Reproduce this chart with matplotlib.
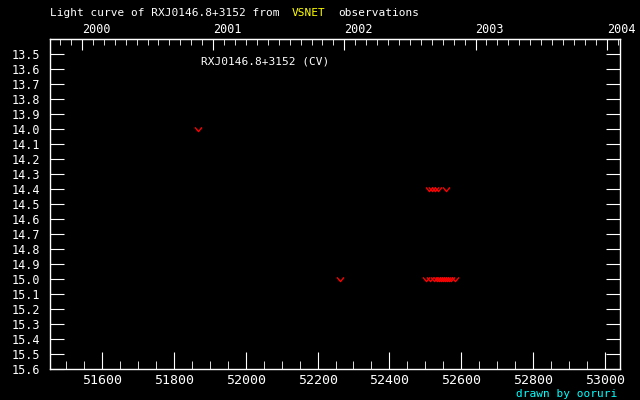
#Light curve plot (VSNET style)

import matplotlib
matplotlib.use('Agg')
import matplotlib.pyplot as plt
from matplotlib.ticker import MultipleLocator, FixedLocator
import numpy as np

# observations (MJD, magnitude)
mjd_14 = [51867, 52510, 52518, 52527, 52535, 52557]
mag_14 = [14.0, 14.4, 14.4, 14.4, 14.4, 14.4]
mjd_15 = [52262, 52502, 52513, 52524, 52532, 52538, 52543, 52549, 52555, 52560, 52566, 52571, 52582]
mag_15 = [15.0] * 13

star_name = 'RXJ0146.8+3152'
year_ticks = [2000, 2001, 2002, 2003, 2004]

plt.rcParams['font.family'] = 'DejaVu Sans Mono'

def mjd_to_year(m):
    return 2000.0 + (np.asarray(m) - 51544.0) / 365.25

def year_to_mjd(y):
    return 51544.0 + (np.asarray(y) - 2000.0) * 365.25

fig = plt.figure(figsize=(6.4, 4.0), dpi=100, facecolor='black')
ax = fig.add_axes([50/640, 1 - 369/400, 570/640, 330/400])
ax.set_facecolor('black')

vmark = [(-1, 0.6), (0, -0.6), (1, 0.6)] # open "v" glyph
ax.plot(mjd_14 + mjd_15, mag_14 + mag_15, linestyle='none', marker=vmark,
        markersize=5, markerfacecolor='none', markeredgecolor='red', markeredgewidth=1)

ax.set_xlim(51455, 53042)
ax.set_ylim(15.6, 13.4)

for s in ax.spines.values():
    s.set_color('white')
    s.set_linewidth(1)

ax.xaxis.set_major_locator(MultipleLocator(200))
ax.xaxis.set_minor_locator(MultipleLocator(50))
ax.yaxis.set_major_locator(FixedLocator(np.round(np.arange(13.5, 15.61, 0.1), 1)))
ax.yaxis.set_major_formatter(plt.FuncFormatter(lambda v, p: '%.1f' % v))

ax.tick_params(axis='x', which='major', direction='in', length=12, color='white',
               labelcolor='white', labelsize=9.5, pad=3.5, top=False)
ax.tick_params(axis='x', which='minor', direction='in', length=6, color='white', top=False)
ax.tick_params(axis='y', which='major', direction='in', length=10, color='white',
               labelcolor='white', labelsize=8.5, right=True, pad=7)

top = ax.secondary_xaxis('top', functions=(mjd_to_year, year_to_mjd))
top.spines['top'].set_color('white')
top.xaxis.set_major_locator(FixedLocator(year_ticks))
top.xaxis.set_minor_locator(MultipleLocator(1/12))
top.xaxis.set_major_formatter(plt.FuncFormatter(lambda v, p: '%d' % round(v)))
top.tick_params(axis='x', which='major', direction='in', length=8, color='white',
                labelcolor='white', labelsize=8.5, pad=2.5)
top.tick_params(axis='x', which='minor', direction='in', length=4, color='white')
for lab in top.get_xticklabels():
    lab.set_horizontalalignment('left')

ax.text(151/570, 1 - (62-39)/330, star_name + ' (CV)', transform=ax.transAxes,
        color='white', fontsize=8, va='center', ha='left')

fig.text(50/640, 1 - 13/400, 'Light curve of ' + star_name + ' from', color='white',
         fontsize=8, va='center', ha='left')
fig.text(292/640, 1 - 13/400, 'VSNET', color='yellow', fontsize=8, va='center', ha='left')
fig.text(338/640, 1 - 13/400, 'observations', color='white', fontsize=8, va='center', ha='left')
fig.text(617/640, 1 - 394/400, 'drawn by ooruri', color='cyan', fontsize=8,
         va='center', ha='right')

fig.savefig('out.png', dpi=100, facecolor='black')
